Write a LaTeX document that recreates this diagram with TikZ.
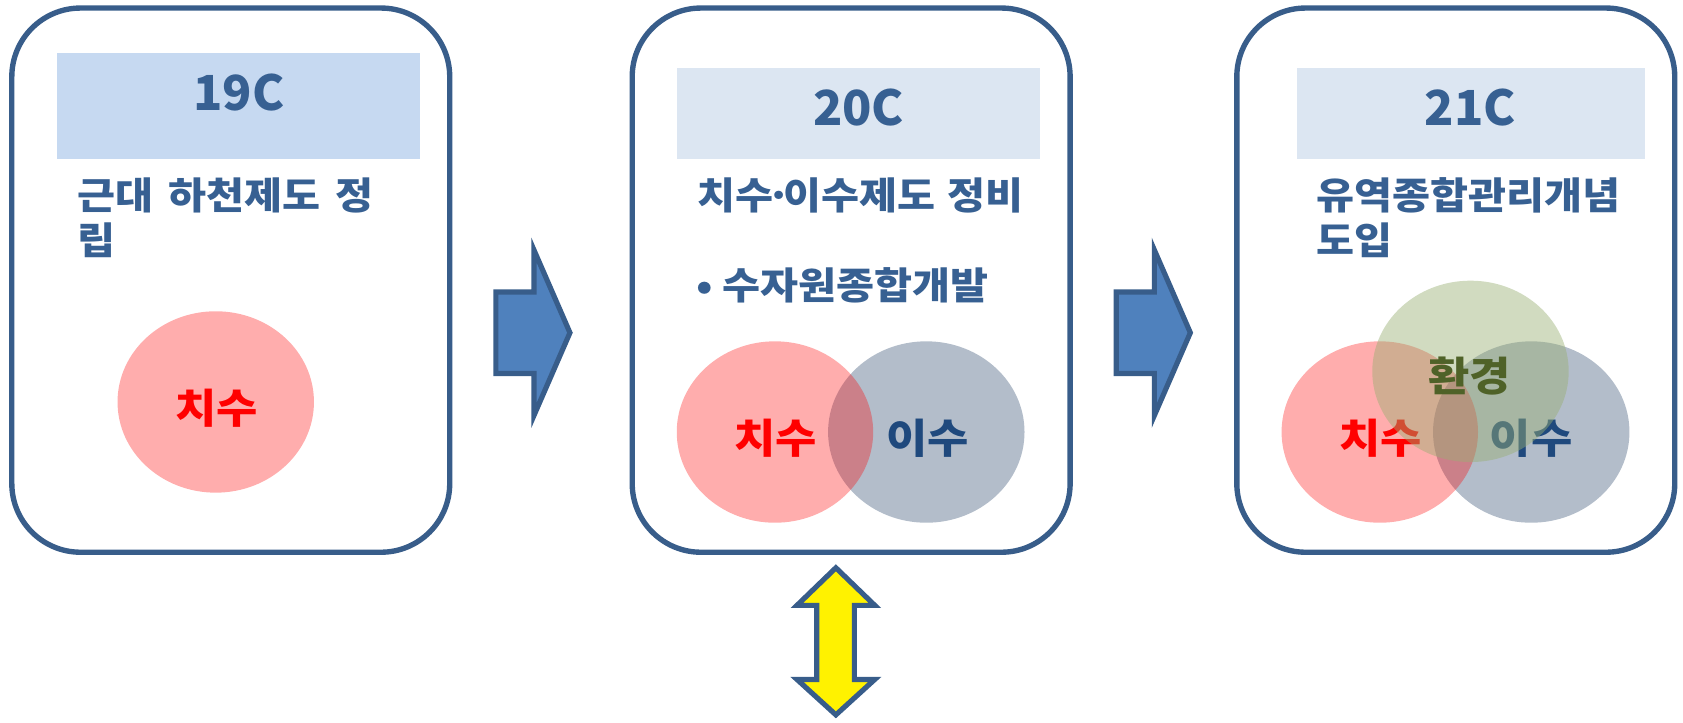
\documentclass[tikz,border=0pt]{standalone}
\usepackage{fontspec}
\usetikzlibrary{shapes.geometric}
\setmainfont{Noto Sans CJK KR}
\newfontfamily\krwide{Noto Sans CJK KR}[FakeStretch=1.1,WordSpace=1.6]
\definecolor{bordc}{HTML}{385D8A}
\definecolor{titc}{HTML}{376092}
\definecolor{headA}{HTML}{C6D9F1}
\definecolor{headB}{HTML}{DCE6F2}
\definecolor{grayc}{HTML}{17375E}
\definecolor{greenc}{HTML}{99AF73}
\definecolor{isuc}{HTML}{1F497D}
\definecolor{envc}{HTML}{4F6228}
\definecolor{arrc}{HTML}{4F81BD}
\begin{document}
\begin{tikzpicture}[x=0.5pt,y=-0.5pt,
  box/.style={draw=bordc,line width=2.5pt,rounded corners=32pt,minimum width=204pt,minimum height=253.5pt,inner sep=0pt},
  head/.style={fill=#1,inner sep=0pt},
  htext/.style={font=\bfseries\fontsize{22.5}{26}\selectfont,text=titc,inner sep=0pt,anchor=base},
  ttext/.style={font=\krwide\bfseries\fontsize{17.5}{21}\selectfont,text=titc,inner sep=0pt,anchor=base west},
  ell/.style={ellipse,minimum width=91.5pt,minimum height=84.5pt,inner sep=0pt,fill=#1},
  redell/.style={ell=red,fill opacity=0.32},
  grayell/.style={ell=grayc,fill opacity=0.33},
  greenell/.style={ell=greenc,fill opacity=0.45},
  lbl/.style={font=\krwide\bfseries\fontsize{19}{23}\selectfont,inner sep=0pt,anchor=base},
  blockarrow/.style={draw=bordc,line width=2.4pt,fill=arrc},
  dblarrow/.style={draw=bordc,line width=2.4pt,fill=yellow}
]
\useasboundingbox (0,0) rectangle (1568,673);

% boxes
\node[box] (b1) at (215,261) {};
\node[box] (b2) at (793,261) {};
\node[box] (b3) at (1356.3,261) {};

% headers
\node[head=headA,minimum width=169pt,minimum height=49.35pt] (h1) at (222.35,98.65) {};
\node[head=headB,minimum width=169pt,minimum height=42.5pt] (h2) at (800,105.5) {};
\node[head=headB,minimum width=162.35pt,minimum height=42.5pt] (h3) at (1370.35,105.5) {};
\node[htext] (h1t) at (222.5,103) {19C};
\node[htext] (h2t) at (800,117) {20C};
\node[htext] (h3t) at (1370,117) {21C};

% titles
\node[ttext] (d1a) at (71.5,195.5) {근대 하천제도 정};
\node[ttext] (d1b) at (71.5,237) {립};
\node[ttext] (d2a) at (649.5,195.5) {치수\kern-0.2em·\kern-0.2em이수제도\kern-0.1em{} 정비};
\node[ttext] (d2bul) at (648.5,279.5) {•};
\node[ttext] (d2b) at (673,279.5) {수자원종합개발};
\node[ttext] (d3a) at (1226,195.5) {유역종합관리개념};
\node[ttext] (d3b) at (1226,237) {도입};

% box 1 circle
\node[redell] (r1) at (201,374.5) {};
\node[lbl,text=red] (r1t) at (201.6,394.5) {치수};

% box 2 circles
\node[grayell] (g2) at (863,402.5) {};
\node[redell] (r2) at (722,402.5) {};
\node[lbl,text=red] (r2t) at (722.5,422.5) {치수};
\node[lbl,text=isuc] (g2t) at (864,422.5) {이수};

% box 3 circles
\node[grayell] (g3) at (1426.6,402.5) {};
\node[redell] (r3) at (1285.5,402.5) {};
\node[lbl,text=red] (r3t) at (1286,422.5) {치수};
\node[lbl,text=isuc] (g3t) at (1426.6,422.5) {이수};
\node[greenell] (e3) at (1370,346) {};
\node[lbl,text=envc] (e3t) at (1369,364.5) {환경};

% block arrows
\draw[blockarrow] (462,272) -- (497.5,272) -- (497.5,233) -- (531,310) -- (497.5,387) -- (497.5,348) -- (462,348) -- cycle;
\draw[blockarrow] (1040,272) -- (1075.5,272) -- (1075.5,233) -- (1109,310) -- (1075.5,387) -- (1075.5,348) -- (1040,348) -- cycle;

% double arrow
\draw[dblarrow] (778.75,529) -- (815,564) -- (796,564) -- (796,633) -- (815,633) -- (778.75,666) -- (742.5,633) -- (761,633) -- (761,564) -- (742.5,564) -- cycle;
\end{tikzpicture}
\end{document}
